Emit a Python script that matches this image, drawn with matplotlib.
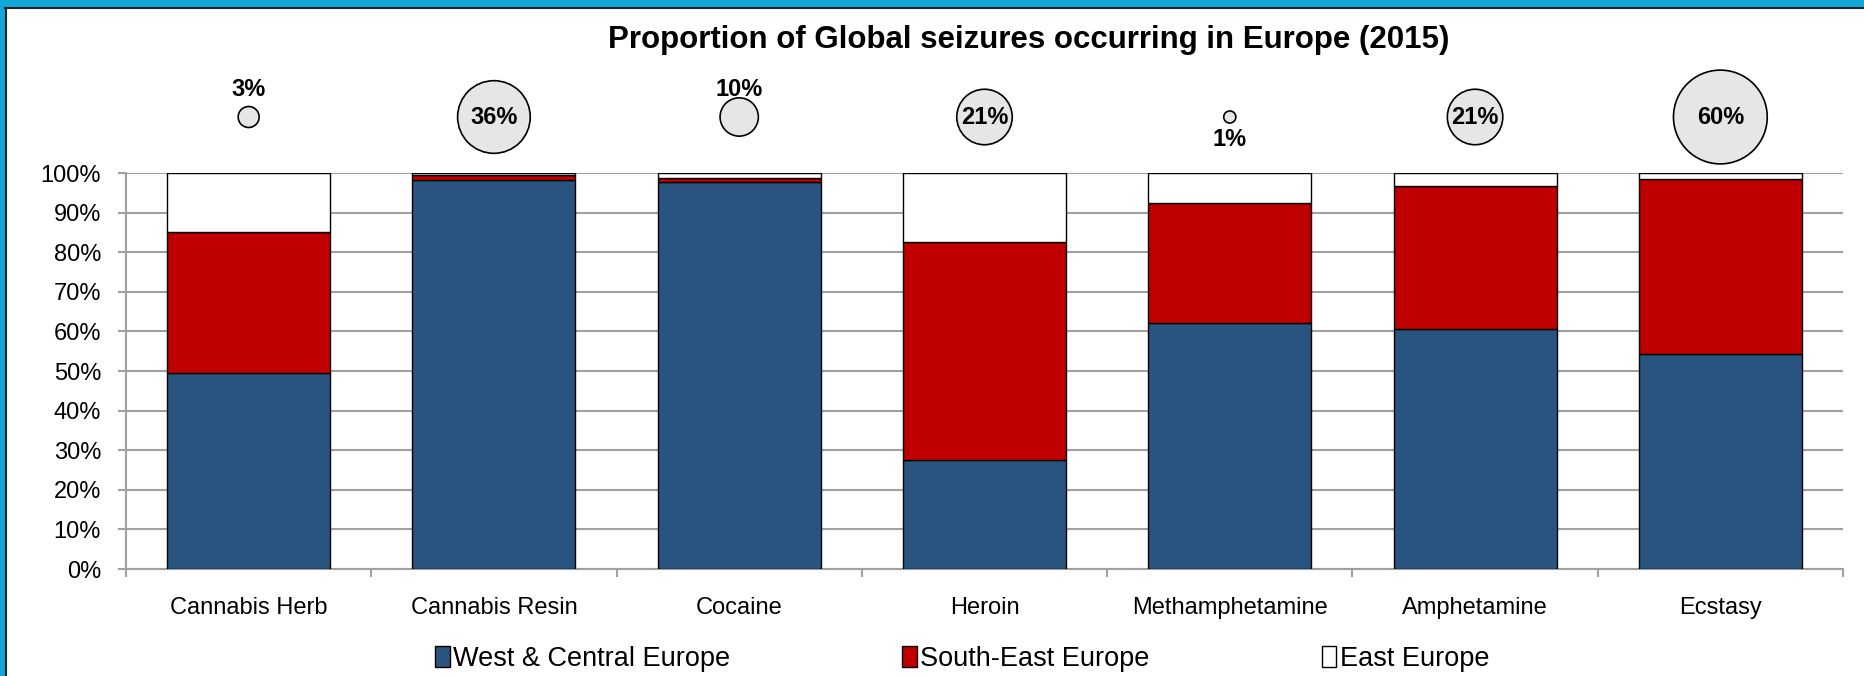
import matplotlib
matplotlib.use("Agg")
import matplotlib.pyplot as plt
import matplotlib.transforms as mtransforms
from matplotlib.patches import Patch, Rectangle
from matplotlib.lines import Line2D
from matplotlib.ticker import PercentFormatter
import numpy as np

plt.rcParams['font.family'] = ['Liberation Sans Narrow', 'Liberation Sans', 'DejaVu Sans']

# data
drugs = ["Cannabis Herb", "Cannabis Resin", "Cocaine", "Heroin",
         "Methamphetamine", "Amphetamine", "Ecstasy"]
west_central = [49.4, 98.2, 97.8, 27.5, 62.0, 60.5, 54.4]
south_east = [35.7, 1.3, 0.9, 55.0, 30.3, 36.1, 44.2]
east = [14.9, 0.5, 1.3, 17.5, 7.7, 3.4, 1.4]
europe_share = [3, 36, 10, 21, 1, 21, 60]
label_pos = ["above", "center", "above", "center", "below", "center", "center"]

blue = "#29547F"
red = "#C00000"
grid_grey = "#A0A0A0"

fig = plt.figure(figsize=(18.65, 6.76), dpi=100)
ax = fig.add_axes([126 / 1865, 1 - 569 / 676, (1843 - 126) / 1865, (569 - 173) / 676])

x = np.arange(len(drugs))
w = 0.665
wc = np.array(west_central)
se = np.array(south_east)
ea = np.array(east)
ax.bar(x, wc, w, color=blue, edgecolor="black", linewidth=1, zorder=3, label="West & Central Europe")
ax.bar(x, se, w, bottom=wc, color=red, edgecolor="black", linewidth=1, zorder=3, label="South-East Europe")
ax.bar(x, ea, w, bottom=wc + se, color="white", edgecolor="black", linewidth=1, zorder=3, label="East Europe")

ax.set_xlim(-0.5, len(drugs) - 0.5)
ax.set_ylim(0, 100)
ax.set_yticks(np.arange(0, 101, 10))
ax.yaxis.set_major_formatter(PercentFormatter(decimals=0))
ax.grid(axis="y", color=grid_grey, linewidth=1.5, zorder=0)
ax.set_axisbelow(True)

ax.set_xticks(x)
ax.set_xticklabels(drugs)
ax.set_xticks(np.arange(-0.5, len(drugs), 1), minor=True)
ax.tick_params(axis="x", which="major", length=0, pad=20, labelsize=17)
ax.tick_params(axis="x", which="minor", length=6, width=1.5, color=grid_grey)
ax.tick_params(axis="y", length=6, width=1.5, color=grid_grey, pad=12, labelsize=17)

for s in ["top", "right"]:
    ax.spines[s].set_visible(False)
for s in ["left", "bottom"]:
    ax.spines[s].set_color(grid_grey)
    ax.spines[s].set_linewidth(1.5)

# bubbles: share of global seizures that happen in Europe
trans = mtransforms.blended_transform_factory(ax.transData, ax.transAxes)
bub_y = (569 - 117) / (569 - 173)
sizes = np.array(europe_share) * 76.0
ax.scatter(x, [bub_y] * len(x), s=sizes, color="#E6E6E6", edgecolor="black",
           linewidth=1.2, transform=trans, clip_on=False, zorder=5)
offsets = {"above": 19.5, "below": -16.5, "center": 0}
for xi, v, pos in zip(x, europe_share, label_pos):
    ax.annotate(f"{v}%", (xi, bub_y), xycoords=trans, xytext=(0, offsets[pos]),
                textcoords="offset points", ha="center", va="center",
                fontsize=17, fontweight="bold", zorder=6, annotation_clip=False)

fig.text(1029 / 1865, 1 - 40 / 676, "Proportion of Global seizures occurring in Europe (2015)",
         ha="center", va="center", fontsize=22.5, fontweight="bold")

handles = [Patch(facecolor=blue, edgecolor="black"),
           Patch(facecolor=red, edgecolor="black"),
           Patch(facecolor="white", edgecolor="black")]
fig.legend(handles, ["West & Central Europe", "South-East Europe", "East Europe"],
           loc="center", bbox_to_anchor=(962 / 1865, 1 - 659 / 676), ncol=3,
           frameon=False, fontsize=19.5, handlelength=0.55, handleheight=0.8,
           handletextpad=0.12, columnspacing=6.35)

# slide frame: blue band on top and left with a thin black line inside
fig.patches.append(Rectangle((0, 1 - 7 / 676), 1, 7 / 676, transform=fig.transFigure,
                             color="#12A6D9", zorder=10))
fig.patches.append(Rectangle((0, 0), 5 / 1865, 1, transform=fig.transFigure,
                             color="#12A6D9", zorder=10))
fig.lines.append(Line2D([5.5 / 1865, 1], [1 - 8 / 676, 1 - 8 / 676], transform=fig.transFigure,
                        color="#222222", linewidth=1.5, zorder=11))
fig.lines.append(Line2D([6 / 1865, 6 / 1865], [0, 1 - 7.5 / 676], transform=fig.transFigure,
                        color="#222222", linewidth=1.5, zorder=11))

fig.savefig("out.png", dpi=100)
